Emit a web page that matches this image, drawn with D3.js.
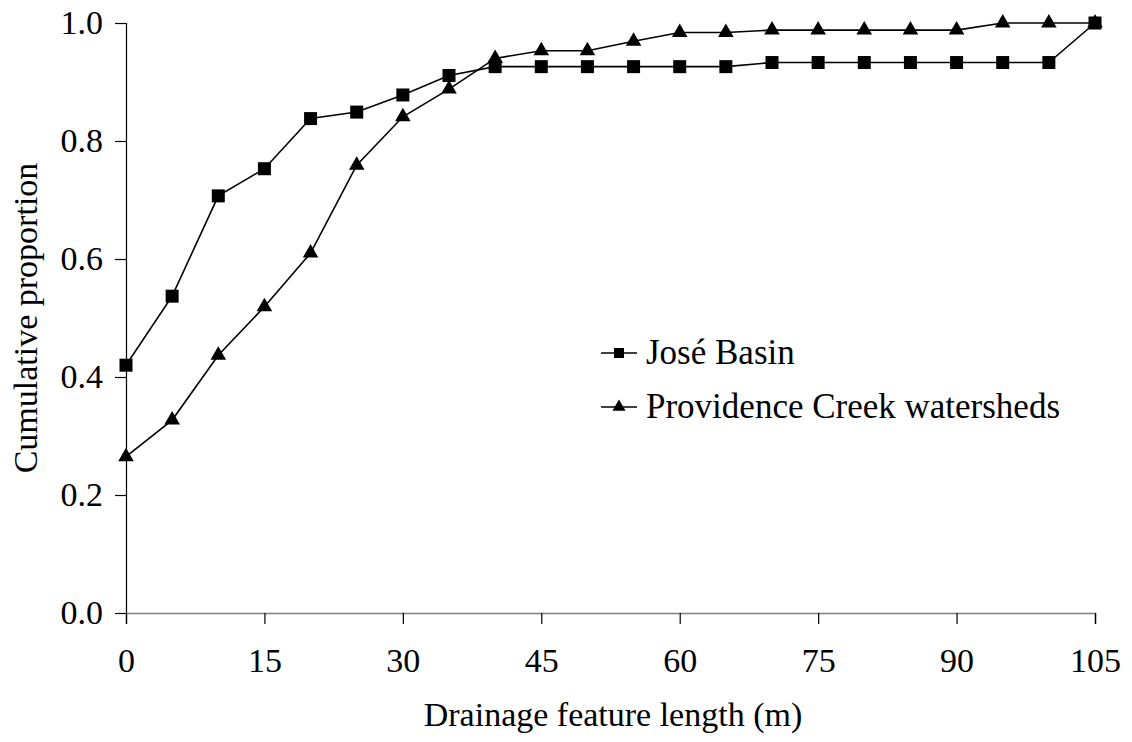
<!DOCTYPE html>
<html>
<head>
<meta charset="utf-8">
<script src="https://cdn.jsdelivr.net/npm/d3@7"></script>
<style>
  html, body { margin: 0; padding: 0; background: #fff; }
  svg text { font-family: "Times New Roman", Times, serif; fill: #000; }
</style>
</head>
<body>
<svg id="chart" width="1132" height="742"></svg>
<script>
const lengths = [0,5,10,15,20,25,30,35,40,45,50,55,60,65,70,75,80,85,90,95,100,105];
const joseBasin = [0.420,0.537,0.707,0.753,0.838,0.849,0.878,0.911,0.926,0.926,0.926,0.926,0.926,0.926,0.933,0.933,0.933,0.933,0.933,0.933,0.933,1.000];
const providenceCreek = [0.265,0.327,0.437,0.519,0.610,0.759,0.841,0.888,0.940,0.953,0.953,0.969,0.984,0.984,0.988,0.988,0.988,0.988,0.988,1.000,1.000,1.000];
const xTicks = [0,15,30,45,60,75,90,105];
const yTicks = [0.0,0.2,0.4,0.6,0.8,1.0];
const seriesNames = ["José Basin", "Providence Creek watersheds"];
const xTitle = "Drainage feature length (m)";
const yTitle = "Cumulative proportion";

const FONT = '"Times New Roman", Times, serif';
const FS = 34, FSL = 35;
const svg = d3.select("#chart");
const mLeft = 126, mRight = 1095, mTop = 23, mBottom = 613;
const x = d3.scaleLinear().domain([0,105]).range([mLeft,mRight]);
const y = d3.scaleLinear().domain([0,1]).range([mBottom,mTop]);

// Y axis
const yAxis = svg.append("g").attr("transform", `translate(${mLeft},0)`)
  .call(d3.axisLeft(y).tickValues(yTicks).tickFormat(d3.format(".1f")).tickSizeOuter(0).tickSize(11).tickPadding(12));
yAxis.attr("font-family", FONT).attr("font-size", FS);
yAxis.select(".domain").attr("stroke","#000").attr("stroke-width",1.2);
yAxis.selectAll(".tick line").attr("stroke","#000").attr("stroke-width",1.2);

// X axis
const xAxis = svg.append("g").attr("transform", `translate(0,${mBottom})`)
  .call(d3.axisBottom(x).tickValues(xTicks).tickFormat(d3.format("d")).tickSizeOuter(0).tickSize(11).tickPadding(24));
xAxis.attr("font-family", FONT).attr("font-size", FS);
xAxis.select(".domain").attr("stroke","#808080").attr("stroke-width",1.6);
xAxis.selectAll(".tick line").attr("stroke","#000").attr("stroke-width",1.2);

// Titles
svg.append("text").attr("x",613).attr("y",726).attr("text-anchor","middle")
  .attr("font-size", FS).text(xTitle);
svg.append("text").attr("transform",`translate(37,${(mTop+mBottom)/2}) rotate(-90)`).attr("text-anchor","middle")
  .attr("font-size", FS).text(yTitle);

// Lines
const line = d3.line().x((d,i)=>x(lengths[i])).y(d=>y(d));
const sqr = d3.symbol().type(d3.symbolSquare).size(169);
const tri = d3.symbol().type(d3.symbolTriangle).size(105);

svg.append("path").datum(providenceCreek).attr("d",line).attr("fill","none").attr("stroke","#000").attr("stroke-width",1.6);
svg.append("path").datum(joseBasin).attr("d",line).attr("fill","none").attr("stroke","#000").attr("stroke-width",1.6);

svg.append("g").selectAll("path").data(providenceCreek).join("path")
  .attr("transform",(d,i)=>`translate(${x(lengths[i])},${y(d)})`).attr("d",tri).attr("fill","#000");
svg.append("g").selectAll("path").data(joseBasin).join("path")
  .attr("transform",(d,i)=>`translate(${x(lengths[i])},${y(d)})`).attr("d",sqr).attr("fill","#000");

// Legend
const lg = svg.append("g");
const items = [{name:seriesNames[0], yy:353},{name:seriesNames[1], yy:407}];
items.forEach((it,k)=>{
  lg.append("line").attr("x1",601).attr("x2",637).attr("y1",it.yy).attr("y2",it.yy).attr("stroke","#000").attr("stroke-width",1.6);
  lg.append("path").attr("transform",`translate(619,${it.yy})`).attr("d", k===0 ? d3.symbol().type(d3.symbolSquare).size(100)() : d3.symbol().type(d3.symbolTriangle).size(75)()).attr("fill","#000");
  lg.append("text").attr("x",646).attr("y",it.yy+11).attr("font-size",FSL).text(it.name);
});
</script>
</body>
</html>
